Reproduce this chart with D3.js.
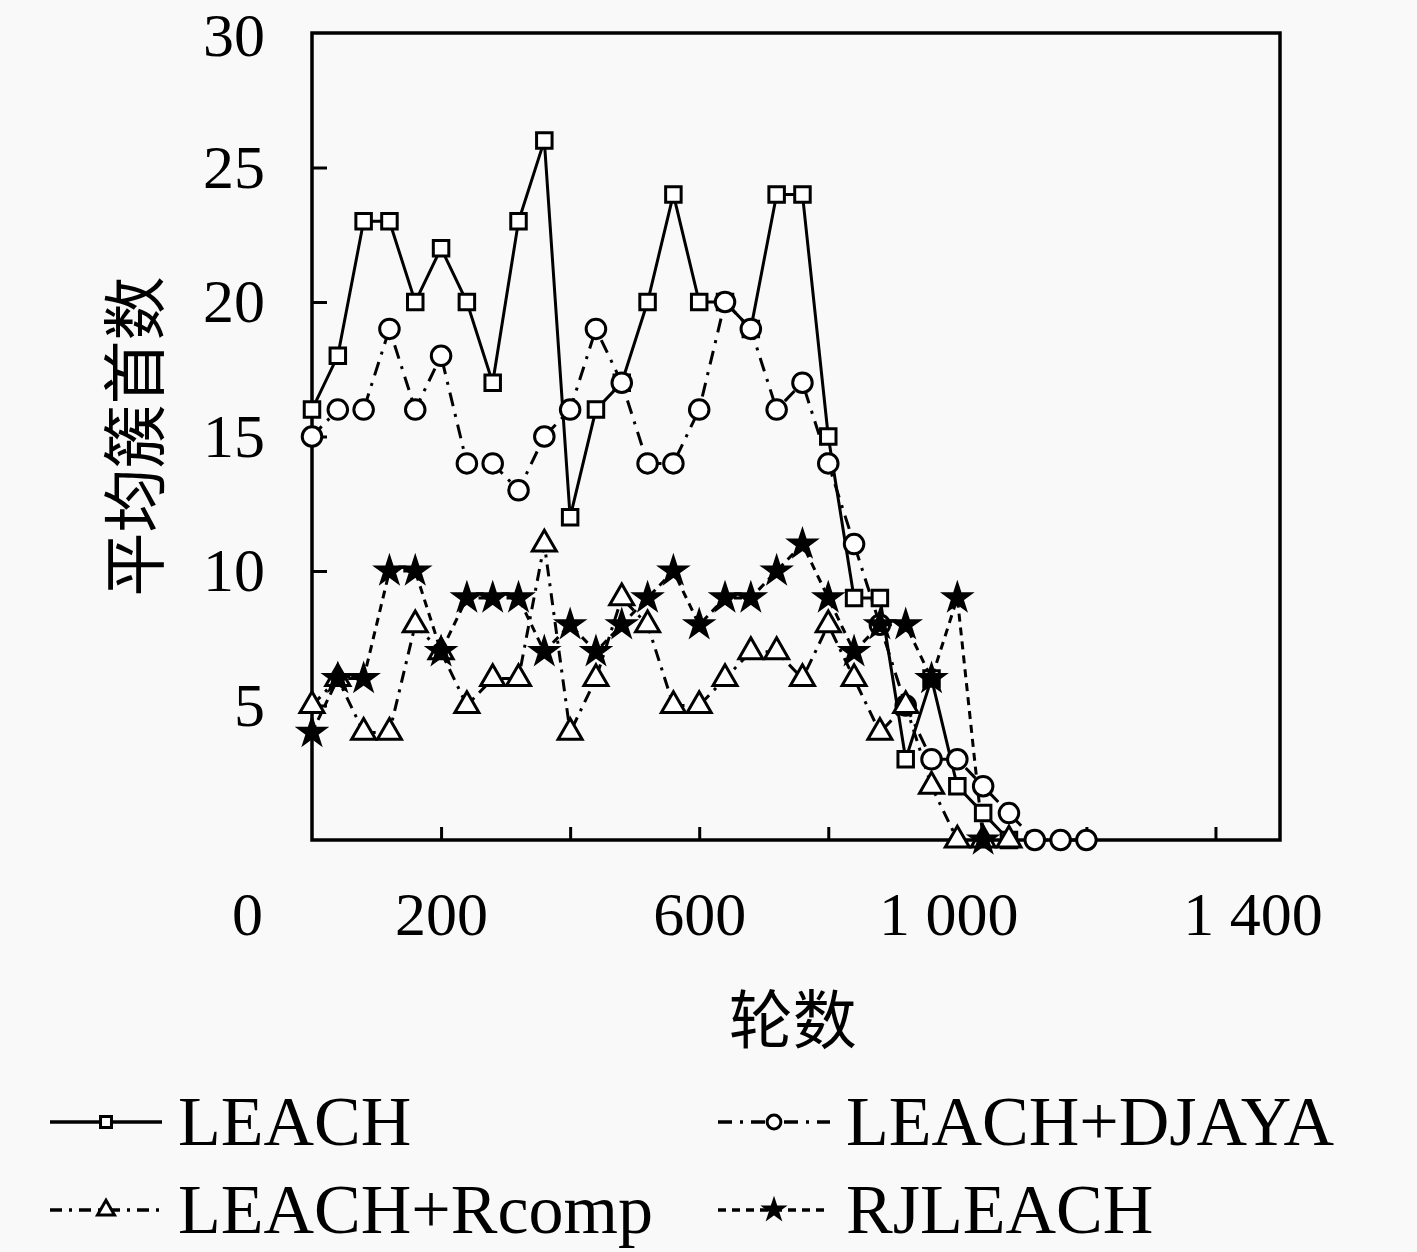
<!DOCTYPE html>
<html>
<head>
  <meta charset="utf-8">
  <script src="https://d3js.org/d3.v7.min.js"></script>
  <style>
  body { margin: 0; background: #f9f9f9; }
  svg { display: block; }
  .axis text {
    font-family: "Liberation Serif", "DejaVu Serif", serif;
    font-size: 62px;
    fill: #000;
  }
  .axis line { stroke: #000; stroke-width: 3px; }
  .series-line { fill: none; stroke: #000; stroke-width: 3px; }
  .legend text {
    font-family: "Liberation Serif", "DejaVu Serif", serif;
    font-size: 70px;
    fill: #000;
  }
  .cjk {
    font-family: "Noto Sans CJK SC", sans-serif;
    font-size: 64px;
    fill: #000;
  }
  </style>
</head>
<body>
<script>
// 轮数 (rounds), one sample every 40 rounds starting at 0
var rounds = d3.range(0, 1201, 40);

var leach   = [16,18,23,23,20,22,20,17,23,26,12,16,17,20,24,20,20,19,24,24,15,9,9,3,6,2,1,0];
var djaya   = [15,16,16,19,16,18,14,14,13,15,16,19,17,14,14,16,20,19,16,17,14,11,8,5,3,3,2,1,0,0,0];
var rcomp   = [5,6,4,4,8,7,5,6,6,11,4,6,9,8,5,5,6,7,7,6,8,6,4,5,2,0,0,0];
var rjleach = [4,6,6,10,10,7,9,9,9,7,8,7,8,9,10,8,9,9,10,11,9,7,8,8,6,9,0];

var seriesNames = ["LEACH", "LEACH+DJAYA", "LEACH+Rcomp", "RJLEACH"];

var xTicks = [0, 200, 400, 600, 800, 1000, 1200, 1400];
var xLabelled = [0, 200, 600, 1000, 1400];
var yTicks = [5, 10, 15, 20, 25, 30];

// style per series (line dash + marker)
var styles = [
  { values: leach,   dash: null,          symbol: d3.symbolSquare,   size: 240, fill: "#fff" },
  { values: djaya,   dash: "14,8,3,8",    symbol: d3.symbolCircle,   size: 300, fill: "#fff" },
  { values: rcomp,   dash: "12,7,3,7",    symbol: d3.symbolTriangle, size: 250, fill: "#fff" },
  { values: rjleach, dash: "8,6",         symbol: d3.symbolStar,     size: 200, fill: "#000" }
];

// label nudges (the source places some x labels off their ticks)
var xLabelShift = { 0: -65, 1000: -9, 1400: 37 };

var W = 1417, H = 1252;
var plotLeft = 312, plotTop = 33, plotRight = 1280, plotBottom = 840;

var svg = d3.select("body").append("svg")
  .attr("width", W)
  .attr("height", H);

var x = d3.scaleLinear().domain([0, 1500]).range([plotLeft, plotRight]);
var y = d3.scaleLinear().domain([0, 30]).range([plotBottom, plotTop]);

var fmt = d3.formatLocale({ decimal: ".", thousands: " ", grouping: [3], currency: ["", ""] }).format(",");

// x axis, ticks pointing inward
var xAxis = d3.axisBottom(x)
  .tickValues(xTicks)
  .tickSizeInner(-13)
  .tickSizeOuter(0)
  .tickPadding(51)
  .tickFormat(function(d) { return xLabelled.indexOf(d) >= 0 ? fmt(d) : ""; });

var gx = svg.append("g")
  .attr("class", "x axis")
  .attr("transform", "translate(0," + plotBottom + ")")
  .call(xAxis);
gx.select(".domain").remove();
gx.selectAll(".tick")
  .filter(function(d) { return d === 0; })
  .select("line").remove();
gx.selectAll(".tick text")
  .attr("dx", function(d) { return xLabelShift[d] || 0; });

// y axis
var yAxis = d3.axisLeft(y)
  .tickValues(yTicks)
  .tickSizeInner(-15)
  .tickSizeOuter(0)
  .tickPadding(47);

var gy = svg.append("g")
  .attr("class", "y axis")
  .attr("transform", "translate(" + plotLeft + ",0)")
  .call(yAxis);
gy.select(".domain").remove();
gy.selectAll(".tick")
  .filter(function(d) { return d === 30; })
  .select("line").remove();
gy.selectAll(".tick text")
  .filter(function(d) { return d === 30; })
  .attr("dy", "0.36em");

// frame
svg.append("rect")
  .attr("x", plotLeft)
  .attr("y", plotTop)
  .attr("width", plotRight - plotLeft)
  .attr("height", plotBottom - plotTop)
  .attr("fill", "none")
  .attr("stroke", "#000")
  .attr("stroke-width", 3.5);

// axis titles
svg.append("text")
  .attr("class", "cjk")
  .attr("x", x(745))
  .attr("y", 1015)
  .attr("text-anchor", "middle")
  .attr("dominant-baseline", "central")
  .text("轮数");

svg.append("text")
  .attr("class", "cjk")
  .attr("transform", "translate(130," + y(15) + ") rotate(-90)")
  .attr("text-anchor", "middle")
  .attr("dominant-baseline", "central")
  .text("平均簇首数");

// series
var line = d3.line()
  .x(function(d, i) { return x(rounds[i]); })
  .y(function(d) { return y(d); });

var plot = svg.append("g").attr("class", "plot");

styles.forEach(function(s) {
  plot.append("path")
    .attr("class", "series-line")
    .attr("d", line(s.values))
    .attr("stroke-dasharray", s.dash);
});

styles.forEach(function(s) {
  var sym = d3.symbol().type(s.symbol).size(s.size);
  plot.selectAll(null)
    .data(s.values)
    .enter().append("path")
      .attr("d", sym)
      .attr("transform", function(d, i) {
        return "translate(" + x(rounds[i]) + "," + y(d) + ")";
      })
      .attr("fill", s.fill)
      .attr("stroke", "#000")
      .attr("stroke-width", 3);
});

// legend, two columns by two rows
var legend = svg.append("g").attr("class", "legend");
var colX = [50, 718], rowY = [1122, 1210];

seriesNames.forEach(function(name, i) {
  var s = styles[i];
  var lx = colX[i % 2], ly = rowY[Math.floor(i / 2)];
  var g = legend.append("g").attr("transform", "translate(" + lx + "," + ly + ")");

  g.append("line")
    .attr("x1", 0).attr("x2", 112)
    .attr("y1", 0).attr("y2", 0)
    .attr("stroke", "#000")
    .attr("stroke-width", 3.5)
    .attr("stroke-dasharray", s.dash);

  g.append("path")
    .attr("d", d3.symbol().type(s.symbol).size(s.size * 0.5)())
    .attr("transform", "translate(56,0)")
    .attr("fill", s.fill)
    .attr("stroke", "#000")
    .attr("stroke-width", 3);

  g.append("text")
    .attr("x", 128)
    .attr("y", 23)
    .text(name);
});
</script>
</body>
</html>
